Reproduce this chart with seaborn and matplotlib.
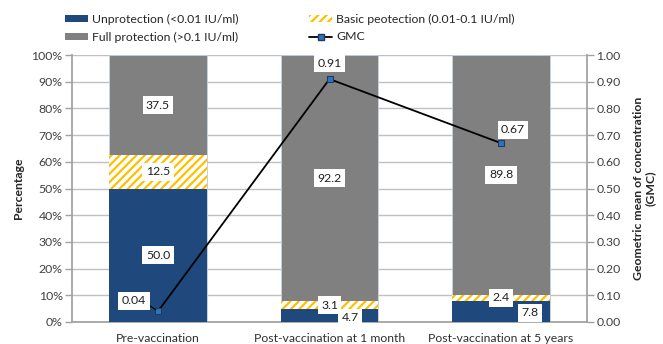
import matplotlib
matplotlib.use("Agg")
import matplotlib.pyplot as plt
import matplotlib.patches as mpatches
from matplotlib.lines import Line2D
import numpy as np
import pandas as pd
import seaborn as sns

# data
groups = ["Pre-vaccination", "Post-vaccination at 1 month", "Post-vaccination at 5 years"]
unprotection = [50.0, 4.7, 7.8]
basic = [12.5, 3.1, 2.4]
full = [37.5, 92.2, 89.8]
gmc = [0.04, 0.91, 0.67]

BLUE = "#1F497D"
GREY = "#808080"
YELLOW = "#FFC000"
FS = 8.8

sns.set_theme(style="white")
plt.rcParams["font.family"] = ["Lato", "DejaVu Sans"]
plt.rcParams["hatch.linewidth"] = 1.6

df = pd.DataFrame({"group": groups, "unprot": unprotection, "basic": basic, "full": full})
df["cum_basic"] = df["unprot"] + df["basic"]
df["cum_full"] = df["cum_basic"] + df["full"]

fig = plt.figure(figsize=(6.63, 3.44), dpi=100)
ax = fig.add_axes([0.109, 0.064, 0.776, 0.776])

W = 0.57
sns.barplot(data=df, x="group", y="cum_full", color=GREY, width=W, saturation=1,
            edgecolor="#C5D3E6", linewidth=0.6, ax=ax, zorder=2)
sns.barplot(data=df, x="group", y="cum_basic", color="white", width=W, saturation=1,
            edgecolor=YELLOW, linewidth=0, hatch="////", ax=ax, zorder=3)
sns.barplot(data=df, x="group", y="unprot", color=BLUE, width=W, saturation=1,
            linewidth=0, ax=ax, zorder=4)

ax.set_ylim(0, 100)
ax.set_xlim(-0.5, 2.5)
ax.set_yticks(np.arange(0, 101, 10))
ax.set_yticklabels([f"{v}%" for v in range(0, 101, 10)], fontsize=FS, color="#404040")
ax.yaxis.grid(True, color="#C0C0C0", linewidth=1)
ax.set_axisbelow(True)
ax.set_xlabel("")
ax.set_ylabel("Percentage", fontsize=FS, fontweight="bold", labelpad=5)
ax.tick_params(axis="x", length=0, pad=8, labelsize=FS, labelcolor="#303030")
ax.tick_params(axis="y", left=True, length=5, color="#A0A0A0", width=1, pad=2)
for s in ["left", "bottom"]:
    ax.spines[s].set_color("#A0A0A0")
ax.spines["top"].set_visible(False)
ax.spines["right"].set_visible(False)

box = dict(facecolor="white", edgecolor="none", pad=2.5)
lab_kw = dict(ha="center", va="center", fontsize=FS, color="#202020", bbox=box, zorder=6)

# data labels (values from the arrays, small nudges where the chart moved them)
ax.text(0, unprotection[0] / 2, f"{unprotection[0]:.1f}", **lab_kw)
ax.text(0, unprotection[0] + basic[0] / 2, f"{basic[0]:.1f}", **lab_kw)
ax.text(0, df["cum_basic"][0] + full[0] / 2, f"{full[0]:.1f}", **lab_kw)
for i in [1, 2]:
    ax.text(i, df["cum_basic"][i] + full[i] / 2, f"{full[i]:.1f}", **lab_kw)
    ax.text(i, unprotection[i] + basic[i] / 2, f"{basic[i]:.1f}", **lab_kw)
ax.text(1 + 0.12, 1.6, f"{unprotection[1]:.1f}", **lab_kw)
ax.text(2 + 0.17, 3.4, f"{unprotection[2]:.1f}", **lab_kw)

ax2 = ax.twinx()
x_pos = np.arange(len(groups))
sns.lineplot(x=x_pos, y=gmc, ax=ax2, color="black", linewidth=1.3, marker="s",
             markersize=4, markerfacecolor="#2E75B6", markeredgecolor="#1F3864", zorder=7)
ax2.set_ylim(0, 1)
ax2.set_xlim(-0.5, 2.5)
ax2.set_yticks(np.arange(0, 1.01, 0.1))
ax2.set_yticklabels([f"{v:.2f}" for v in np.arange(0, 1.01, 0.1)], fontsize=FS, color="#404040")
ax2.tick_params(axis="y", right=True, length=5, color="#A0A0A0", width=1, pad=2)
ax2.set_ylabel("Geometric mean of concentration\n(GMC)", fontsize=FS, fontweight="bold",
               labelpad=9, linespacing=1.05)
ax2.spines["right"].set_color("#A0A0A0")
for s in ["top", "left", "bottom"]:
    ax2.spines[s].set_visible(False)

gkw = dict(fontsize=FS, color="#202020", bbox=box, zorder=8, va="center")
ax2.annotate(f"{gmc[0]:.2f}", xy=(x_pos[0], gmc[0]), xytext=(-0.14, 0.08), ha="center",
             arrowprops=dict(arrowstyle="-", color="black", lw=0.8,
                             connectionstyle="arc,angleA=0,angleB=90,armA=8,armB=0,rad=3",
                             shrinkA=0, shrinkB=2), **gkw)
ax2.text(x_pos[1], gmc[1] + 0.06, f"{gmc[1]:.2f}", ha="center", **gkw)
ax2.text(x_pos[2] + 0.07, gmc[2] + 0.05, f"{gmc[2]:.2f}", ha="center", **gkw)

handles = [
    mpatches.Patch(facecolor=BLUE, edgecolor="none"),
    mpatches.Patch(facecolor=GREY, edgecolor="none"),
    mpatches.Patch(facecolor="white", edgecolor=YELLOW, hatch="////", linewidth=0),
    Line2D([0], [0], color="black", linewidth=1.3, marker="s", markersize=4,
           markerfacecolor="#2E75B6", markeredgecolor="#1F3864"),
]
labels = ["Unprotection (<0.01 IU/ml)", "Full protection (>0.1 IU/ml)",
          "Basic peotection (0.01-0.1 IU/ml)", "GMC"]
fig.legend(handles, labels, ncol=2, loc="upper left", bbox_to_anchor=(0.085, 0.985),
           frameon=False, fontsize=FS, handlelength=1.9, handleheight=0.5,
           handletextpad=0.3, columnspacing=5.8, labelspacing=0.55, borderaxespad=0.3)

fig.savefig("out.png", dpi=100)
